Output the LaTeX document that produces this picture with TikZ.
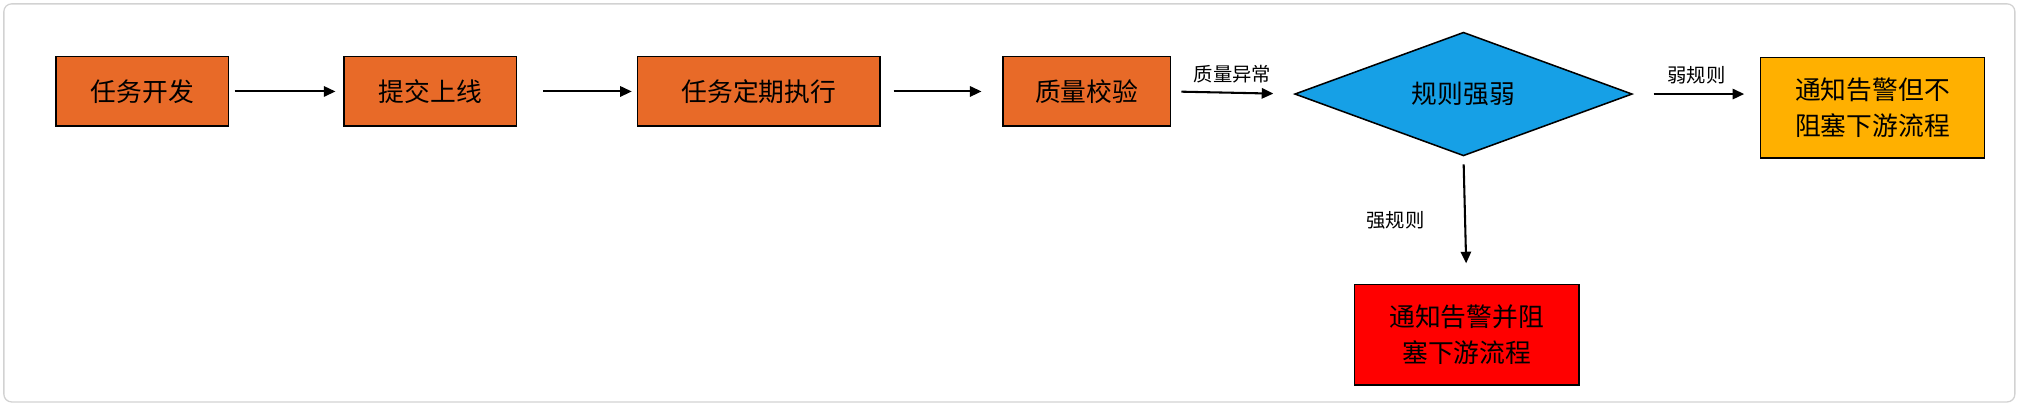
\documentclass[tikz,border=0pt]{standalone}
\usepackage{fontspec}
\setmainfont{Noto Sans CJK SC}
\usetikzlibrary{shapes.geometric,arrows.meta}
\definecolor{boxorange}{RGB}{232,106,40}
\definecolor{boxyellow}{RGB}{255,176,0}
\definecolor{boxred}{RGB}{255,0,0}
\definecolor{diablue}{RGB}{22,160,230}
\tikzset{every picture/.style={line width=0.6pt}}
\tikzset{
  stepbox/.style={draw, fill=boxorange, minimum width=67pt, minimum height=27pt, font=\fontsize{10}{12}\selectfont, inner sep=2pt},
  endbox/.style={draw, minimum width=87pt, minimum height=39pt, align=center, font=\fontsize{10}{14}\selectfont},
  flow/.style={-{Triangle[length=4.5pt,width=4pt]}, line width=0.8pt},
  lbl/.style={font=\fontsize{7.5}{9}\selectfont}
}
\begin{document}
\begin{tikzpicture}[x=0.5pt,y=-0.5pt]
\useasboundingbox (0,0) rectangle (1568,315);
\draw [draw={rgb,255:red,210;green,210;blue,210}, rounded corners=3pt, line width=0.5pt] (3,3) rectangle (1564,312);

% Text Node
\node [stepbox] (dev) at (110.5,71) {任务开发};
% Text Node
\node [stepbox] (submit) at (334,71) {提交上线};
% Text Node
\node [stepbox, minimum width=94pt] (run) at (589,71) {任务定期执行};
% Text Node
\node [stepbox, minimum width=65pt] (check) at (843.5,71) {质量校验};
% Shape: Diamond
\node [draw, diamond, aspect=2.77, fill=diablue, minimum width=131pt, minimum height=48pt, inner sep=0pt, font=\fontsize{10}{12}\selectfont] (rule) at (1136,73) {规则强弱};
% Text Node
\node [endbox, fill=boxyellow] (weak) at (1453.5,83.5) {通知告警但不\\阻塞下游流程};
% Text Node
\node [endbox, fill=boxred] (strong) at (1138.5,260) {通知告警并阻\\塞下游流程};

%Straight Lines
\draw [flow, shorten <=2pt, shorten >=3pt] (dev) -- (submit);
\draw [flow, shorten <=10pt, shorten >=2pt] (submit) -- (run);
\draw [flow, shorten <=5pt, shorten >=8pt] (run) -- (check);
\draw [flow, shorten <=4pt, shorten >=8pt] (check.east) -- node [lbl, above] {质量异常} (rule.west);
\draw [flow, shorten <=8pt, shorten >=6pt] (rule.east) -- node [lbl, above] {弱规则} (weak.west |- rule.east);
\draw [flow, shorten <=3pt, shorten >=8pt] (rule.south) -- node [lbl, left=12pt] {强规则} (strong.north);
\end{tikzpicture}
\end{document}
